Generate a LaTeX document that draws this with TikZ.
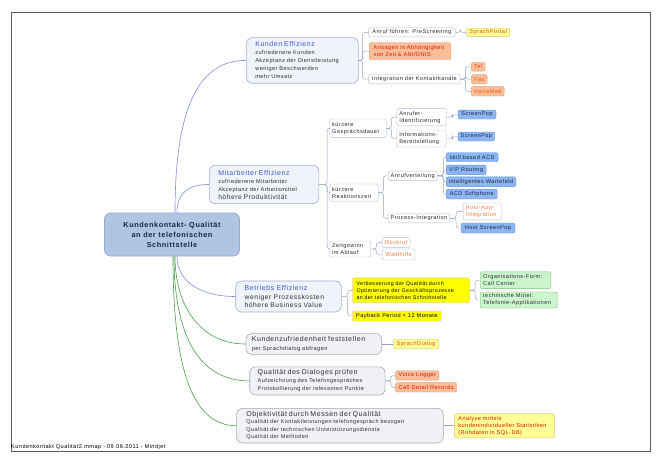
\documentclass[tikz,border=0pt]{standalone}
\usepackage{fontspec}
\setmainfont{Liberation Sans}[LetterSpace=8]
\usepackage{tikz}
\usetikzlibrary{positioning}
\definecolor{rootfill}{RGB}{176,196,228}
\definecolor{rootdraw}{RGB}{150,170,212}
\definecolor{topicfill}{RGB}{241,243,251}
\definecolor{topicdraw}{RGB}{160,172,215}
\definecolor{greyfill}{RGB}{240,241,244}
\definecolor{greydraw}{RGB}{165,168,178}
\definecolor{titleblue}{RGB}{55,90,205}
\definecolor{textgray}{RGB}{45,45,50}
\definecolor{navytext}{RGB}{25,38,70}
\definecolor{subdraw}{RGB}{180,190,222}
\definecolor{linkblue}{RGB}{128,144,214}
\definecolor{linkgreen}{RGB}{70,160,70}
\definecolor{linkgray}{RGB}{150,160,195}
\definecolor{paleyellow}{RGB}{255,255,150}
\definecolor{brightyellow}{RGB}{255,255,0}
\definecolor{yellowdraw}{RGB}{210,200,110}
\definecolor{salmon}{RGB}{251,190,150}
\definecolor{salmondraw}{RGB}{225,160,120}
\definecolor{popblue}{RGB}{140,182,242}
\definecolor{popdraw}{RGB}{100,145,215}
\definecolor{mintgreen}{RGB}{205,245,205}
\definecolor{mintdraw}{RGB}{120,195,120}
\definecolor{alertred}{RGB}{225,20,10}
\definecolor{leaforange}{RGB}{232,80,26}
\definecolor{lightorange}{RGB}{240,128,64}
\definecolor{framegray}{RGB}{90,90,90}
\newcommand{\topictitle}[1]{{\fontsize{7}{8}\selectfont\color{titleblue}#1}}
\newcommand{\plaintitle}[1]{{\fontsize{7}{8}\selectfont #1}}

\begin{document}
\begin{tikzpicture}[x=1pt, y=-1pt,
    base/.style={rectangle, anchor=west, align=left, inner ysep=0pt, text=textgray, font=\fontsize{5.6}{7}\selectfont},
    root/.style={rectangle, rounded corners=6pt, fill=rootfill, draw=rootdraw, line width=0.7pt, align=center, text=navytext, font=\fontsize{7.3}{10}\selectfont\bfseries, minimum width=135pt, minimum height=43pt},
    topic/.style={base, rounded corners=6pt, fill=topicfill, draw=topicdraw, line width=0.6pt, inner xsep=9pt, font=\fontsize{5.6}{8}\selectfont},
    greytopic/.style={topic, fill=greyfill, draw=greydraw},
    sub/.style={base, rounded corners=2pt, fill=white, draw=subdraw, line width=0.4pt, inner xsep=2.5pt},
    yellowleaf/.style={sub, fill=paleyellow, draw=yellowdraw, text=leaforange},
    strongleaf/.style={sub, fill=brightyellow, draw=yellowdraw, text=black},
    salmonleaf/.style={sub, fill=salmon, draw=salmondraw, text=alertred},
    popleaf/.style={sub, fill=popblue, draw=popdraw, text=navytext},
    mintleaf/.style={sub, fill=mintgreen, draw=mintdraw},
    outleaf/.style={sub, text=lightorange},
    link/.style={draw=linkgray, line width=0.45pt, rounded corners=2.5pt},
    branchblue/.style={draw=linkblue, line width=0.6pt},
    branchgreen/.style={draw=linkgreen, line width=0.6pt}
]
\path[use as bounding box, fill=white] (0,0) rectangle (659,466);
\draw[framegray, line width=0.8pt] (11.5,12) rectangle (650,451);
\node[anchor=south west, inner sep=0.5pt, font=\fontsize{5.6}{6}\selectfont, text=black] (footer) at (10.5,450.6) {Kundenkontakt Qualität2.mmap - 09.06.2011 - Mindjet};

% Wurzel
\node[root] (kk) at (172,234.5) {Kundenkontakt- Qualität\\an der telefonischen\\Schnittstelle};

% Hauptzweige
\node[topic, text width=94pt, minimum height=45.6pt] (kunden) at (246,60.4) {\topictitle{Kunden Effizienz}\\zufriedenere Kunden\\Akzeptanz der Dienstleistung\\weniger Beschwerden\\mehr Umsatz};
\node[topic, text width=91.6pt, minimum height=38.3pt] (mitarb) at (209,184.5) {\topictitle{Mitarbeiter Effizienz}\\zufriedenere Mitarbeiter\\Akzeptanz der Arbeitsmittel\\{\fontsize{6.7}{8}\selectfont höhere Produktivität}};
\node[topic, text width=87.6pt, minimum height=31pt, font=\fontsize{6.7}{8.5}\selectfont] (betrieb) at (235.4,296.5) {\topictitle{Betriebs Effizienz}\\weniger Prozesskosten\\höhere Business Value};
\node[greytopic, inner xsep=6pt, text width=123.8pt, minimum height=20.8pt, font=\fontsize{5.6}{8.4}\selectfont] (kzf) at (245.6,344) {\plaintitle{Kundenzufriedenheit feststellen}\\per Sprachdialog abfragen};
\node[greytopic, inner xsep=8pt, text width=119.4pt, minimum height=28.2pt, font=\fontsize{5.5}{8}\selectfont] (dialog) at (249.4,380.9) {\plaintitle{Qualität des Dialoges prüfen}\\Aufzeichnung des Telefongespräches\\Protokollierung der relevanten Punkte};
\node[greytopic, inner xsep=9.7pt, text width=187.3pt, minimum height=34.6pt, font=\fontsize{5.5}{7.5}\selectfont] (objekt) at (236.3,425.7) {\plaintitle{Objektivität durch Messen der Qualität}\\Qualität der Kontaktleistungen telefongespräch bezogen\\Qualität der technischen Unterstützungsdienste\\Qualität der Methoden};

\draw[branchblue] ([xshift=3pt]kk.north) .. controls +(0,-110) and +(-45,0) .. (kunden.west);
\draw[branchblue] ([xshift=5pt]kk.north) .. controls +(0,-22) and +(-18,0) .. (mitarb.west);
\draw[branchblue] ([xshift=5pt]kk.south) .. controls +(0,25) and +(-35,0) .. (betrieb.west);
\draw[branchgreen] ([xshift=3pt]kk.south) .. controls +(0,50) and +(-45,0) .. (kzf.west);
\draw[branchgreen] ([xshift=2pt]kk.south) .. controls +(0,80) and +(-50,0) .. (dialog.west);
\draw[branchgreen] ([xshift=1pt]kk.south) .. controls +(0,110) and +(-45,0) .. (objekt.west);

% Kunden Effizienz
\node[sub, minimum width=86.6pt, minimum height=9pt] (prescreen) at (368.4,32.4) {Anruf führen: PreScreening};
\node[yellowleaf, right=11pt of prescreen, minimum width=43pt, minimum height=8.4pt] (sprachportal) {SprachPortal};
\node[salmonleaf, inner xsep=4.4pt, text width=72.8pt, minimum height=17pt] (ansagen) at (369,51.2) {Ansagen in Abhängigkeit\\von Zeit \& ANI/DNIS};
\node[sub, minimum width=91.6pt, minimum height=9.4pt] (integ) at (368.4,79.2) {Integration der Kontaktkanäle};
\node[salmonleaf, text=leaforange, minimum width=14pt, minimum height=8.7pt] (tel) at (471,66.8) {Tel};
\node[salmonleaf, text=leaforange, right=11pt of integ, minimum width=15.5pt, minimum height=9.5pt] (fax) {Fax};
\node[salmonleaf, text=leaforange, minimum width=33pt, minimum height=9.4pt] (voicemail) at (471,91.3) {VoiceMail};

\draw[link] (kunden.east) -- ++(4,0) |- (prescreen.west);
\draw[link] (kunden.east) -- ++(4,0) |- (ansagen.west);
\draw[link] (kunden.east) -- ++(4,0) |- (integ.west);
\draw[link] (prescreen.east) -- ++(5,0) |- (sprachportal.west);
\draw[link] (integ.east) -- ++(5,0) |- (tel.west);
\draw[link] (integ.east) -- ++(5,0) |- (fax.west);
\draw[link] (integ.east) -- ++(5,0) |- (voicemail.west);

% Mitarbeiter Effizienz
\node[sub, text width=51.5pt, minimum height=18.6pt] (gespraech) at (329.5,128.3) {kürzere\\Gesprächsdauer};
\node[sub, text width=43.5pt, minimum height=17.3pt] (reaktion) at (329.5,192.6) {kürzere\\Reaktionszeit};
\node[sub, text width=36pt, minimum height=16pt] (zeitgewinn) at (329.5,249) {Zeitgewinn\\im Ablauf};

\node[sub, text width=44.4pt, minimum height=17.4pt] (anrufer) at (396.6,117.1) {Anrufer-\\Identifizierung};
\node[sub, text width=44.4pt, minimum height=17pt] (infobereit) at (396.6,138.5) {Informations-\\Bereitstellung};
\node[popleaf, minimum width=38pt, minimum height=9pt] (pop1) at (457.8,114.5) {ScreenPop};
\node[popleaf, minimum width=36.7pt, minimum height=9pt] (pop2) at (457.8,136.5) {ScreenPop};

\node[sub, minimum width=46.6pt, minimum height=9.5pt] (verteilung) at (388,175.8) {Anrufverteilung};
\node[sub, minimum width=61.4pt, minimum height=9pt] (procint) at (388,218.3) {Process-Integration};
\node[popleaf, minimum width=52pt, minimum height=9pt] (skill) at (446,157.2) {skill based ACD};
\node[popleaf, minimum width=40pt, minimum height=9.5pt] (vip) at (446,169.8) {VIP Routing};
\node[popleaf, minimum width=69.6pt, minimum height=9.8pt] (wartefeld) at (446,181.7) {intelligentes Wartefeld};
\node[popleaf, minimum width=51pt, minimum height=10pt] (softphone) at (446,194) {ACD Softphone};
\node[outleaf, text width=33.4pt, minimum height=16.8pt] (hostapp) at (462.9,211.4) {Host-App-\\Integration};
\node[popleaf, minimum width=54pt, minimum height=10pt] (hostpop) at (460.8,228) {Host ScreenPop};

\node[outleaf, minimum width=28.1pt, minimum height=10pt] (rueckruf) at (381.9,242.6) {Rückruf};
\node[outleaf, minimum width=32.9pt, minimum height=11pt] (wahlhilfe) at (381.9,254.5) {Wahlhilfe};

\draw[link] (mitarb.east) -- ++(8,0) |- (gespraech.west);
\draw[link] (mitarb.east) -- ++(8,0) |- (reaktion.west);
\draw[link] (mitarb.east) -- ++(8,0) |- (zeitgewinn.west);
\draw[link] (gespraech.east) -- ++(5,0) |- (anrufer.west);
\draw[link] (gespraech.east) -- ++(5,0) |- (infobereit.west);
\draw[link] (anrufer.east) -- ++(6,0) |- (pop1.west);
\draw[link] (infobereit.east) -- ++(6,0) |- (pop2.west);
\draw[link] (reaktion.east) -- ++(5,0) |- (verteilung.west);
\draw[link] (reaktion.east) -- ++(5,0) |- (procint.west);
\draw[link] (verteilung.east) -- ++(6,0) |- (skill.west);
\draw[link] (verteilung.east) -- ++(6,0) |- (vip.west);
\draw[link] (verteilung.east) -- ++(6,0) |- (wartefeld.west);
\draw[link] (verteilung.east) -- ++(6,0) |- (softphone.west);
\draw[link] (procint.east) -- ++(6,0) |- (hostapp.west);
\draw[link] (procint.east) -- ++(6,0) |- (hostpop.west);
\draw[link] (zeitgewinn.east) -- ++(5.5,0) |- (rueckruf.west);
\draw[link] (zeitgewinn.east) -- ++(5.5,0) |- (wahlhilfe.west);

% Betriebs Effizienz
\node[strongleaf, inner xsep=4pt, text width=109pt, minimum height=24.8pt, font=\fontsize{5.3}{7}\selectfont] (verbess) at (352.3,290.3) {Verbesserung der Qualität durch\\Optimierung der Geschäftsprozesse\\an der telefonischen Schnittstelle};
\node[strongleaf, minimum width=88.7pt, minimum height=10pt] (payback) at (352.3,316) {Payback Period < 12 Monate};
\node[mintleaf, inner xsep=3pt, text width=64.6pt, minimum height=16.8pt] (orgform) at (480,280.2) {Organisations-Form:\\Call Center};
\node[mintleaf, inner xsep=3pt, text width=71pt, minimum height=16pt] (techmittel) at (480,300) {technische Mittel:\\Telefonie-Applikationen};

\draw[link] (betrieb.east) -- ++(6,0) |- (verbess.west);
\draw[link] (betrieb.east) -- ++(6,0) |- (payback.west);
\draw[link] (verbess.east) -- ++(5.5,0) |- (orgform.west);
\draw[link] (verbess.east) -- ++(5.5,0) |- (techmittel.west);

% untere Zweige
\node[yellowleaf, right=11pt of kzf, minimum width=45.6pt, minimum height=9.6pt] (sprachdialog) {SprachDialog};
\node[salmonleaf, minimum width=43.4pt, minimum height=9.4pt] (voicelog) at (395.4,375.5) {Voice Logger};
\node[salmonleaf, minimum width=61.1pt, minimum height=9.4pt] (cdr) at (395.4,387.3) {Call Detail Records};
\node[yellowleaf, text=alertred, right=10.6pt of objekt, inner xsep=4pt, text width=92pt, minimum height=24.2pt] (analyse) {Analyse mittels\\kundenindividueller Statistiken\\(Rohdaten in SQL-DB)};

\draw[link] (kzf.east) -- (sprachdialog.west);
\draw[link] (dialog.east) -- ++(5.5,0) |- (voicelog.west);
\draw[link] (dialog.east) -- ++(5.5,0) |- (cdr.west);
\draw[link] (objekt.east) -- (analyse.west);
\end{tikzpicture}
\end{document}
